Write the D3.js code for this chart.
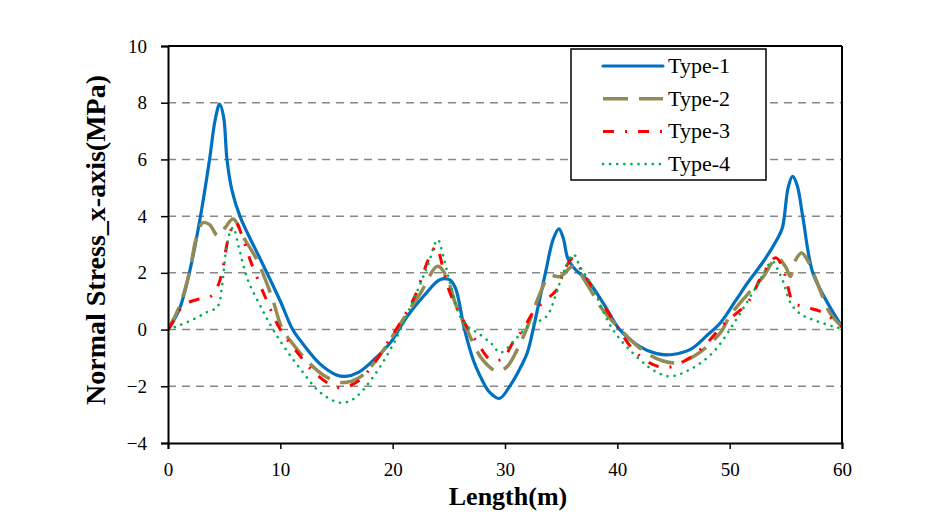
<!DOCTYPE html>
<html><head><meta charset="utf-8">
<script src="https://cdn.jsdelivr.net/npm/d3@7"></script>
<style>body{margin:0;background:#fff}svg{display:block}
svg text{font-family:'Liberation Serif','Times New Roman',serif}
.tick text{font-size:19px}</style>
</head><body>
<svg id="c" width="941" height="530"></svg>
<script>
const seriesNames = ["Type-1","Type-2","Type-3","Type-4"];
const xTicks = [0,10,20,30,40,50,60];
const yTicks = [-4,-2,0,2,4,6,8,10];
const type1 = [[0,0],[1,0.7],[1.9,2],[2.85,3.9],[3.7,6],[4.2,7.4],[4.6,7.95],[4.95,7.5],[5.25,6],[5.7,4.9],[6.4,4.0],[7.2,3.3],[8.2,2.5],[10,1.0],[11.1,0],[12,-0.5],[13.5,-1.2],[15,-1.6],[15.8,-1.65],[17,-1.5],[18.5,-1.0],[19.8,-0.46],[21.3,0.47],[22.8,1.2],[24.2,1.76],[25.1,1.75],[25.6,1.45],[26.4,0],[27.2,-1.1],[27.8,-1.65],[28.6,-2.2],[29.5,-2.43],[30.5,-1.95],[31.3,-1.4],[32,-0.8],[32.5,0],[33.6,2.0],[34.3,3.2],[34.8,3.55],[35.2,3.2],[35.6,2.5],[36.3,2.1],[37.3,1.76],[38.8,0.9],[40.2,0],[42,-0.6],[43.5,-0.85],[44.9,-0.88],[46.5,-0.7],[48,-0.2],[49.2,0.25],[50.5,1.0],[51.6,1.65],[53,2.4],[54.2,3.17],[54.7,3.6],[55.2,5.0],[55.6,5.4],[56,5.1],[56.5,4.0],[57.4,2.0],[58.7,0.95],[60,0.1]];
const type2 = [[0,0],[1,0.8],[1.9,2],[2.5,3.2],[3.1,3.77],[3.7,3.7],[4.45,3.3],[5.1,3.6],[5.8,3.9],[6.8,3.2],[7.9,2.47],[9.2,1.2],[10.2,0],[11.1,-0.5],[12.5,-1.15],[14,-1.65],[15.5,-1.87],[17,-1.7],[18.5,-1.1],[19.8,-0.35],[21,0.4],[22.5,1.3],[24,2.23],[24.8,1.87],[25.6,0.9],[26.6,0],[28,-1.06],[29.3,-1.47],[30.2,-1.3],[31.1,-0.7],[32,0.1],[32.9,1.06],[33.6,1.7],[34,1.9],[34.9,1.87],[36.1,2.23],[37.3,1.6],[38.7,0.7],[40.9,-0.25],[42.5,-0.8],[44,-1.1],[45.3,-1.17],[47,-0.9],[49.2,-0.1],[50,0.47],[51.5,1.2],[53,1.87],[54.2,2.53],[55,2.2],[55.4,1.87],[55.8,2.4],[56.4,2.7],[57,2.4],[57.8,1.65],[58.9,0.6],[60,0.1]];
const type3 = [[0,0],[0.5,0.3],[1.07,0.7],[1.8,0.95],[2.6,1.06],[3.5,1.12],[4.0,1.23],[4.5,1.6],[4.8,2.0],[5.35,3.17],[6,3.8],[6.6,3.3],[7.3,2.47],[8.6,1.2],[10,0],[11.5,-0.8],[13,-1.5],[14.5,-1.95],[15.5,-2.05],[17,-1.8],[18.5,-1.1],[19.8,-0.3],[20.7,0.25],[22,1.2],[23.3,2.58],[23.9,2.93],[24.4,2.3],[25.1,1.3],[26.6,0.1],[27.6,-0.5],[28.7,-1.06],[29.8,-1.03],[30.7,-0.46],[31.6,0],[32.5,0.6],[33.5,1.0],[34.6,1.4],[35.3,2.1],[36,2.5],[36.6,2.2],[37.6,1.6],[39.6,0.35],[41.4,-0.7],[43,-1.2],[44.4,-1.34],[46,-1.1],[47.6,-0.63],[49.5,0.2],[51.6,0.95],[53,2.0],[54.1,2.53],[54.7,2.2],[55.1,1.65],[55.7,0.95],[56.9,0.78],[58.3,0.6],[60,0.1]];
const type4 = [[0,0],[1,0.15],[2.2,0.35],[3.4,0.6],[4.4,0.8],[4.8,1.5],[5.1,2.58],[5.5,3.4],[5.8,3.6],[6.3,2.9],[7.1,1.76],[8.4,0.7],[9.35,0],[10.5,-0.7],[12,-1.5],[13.5,-2.2],[15.3,-2.58],[16.5,-2.45],[18.3,-1.65],[20.4,-0.25],[21.8,1.0],[23.1,2.23],[24,3.17],[24.5,2.6],[25.1,1.65],[26.3,0.25],[27.8,-0.18],[28.8,-0.5],[29.6,-0.81],[30.8,-0.4],[32,0.1],[33.7,0.47],[34.5,1.2],[35.2,2.0],[36.1,2.65],[36.7,2.2],[37.6,1.65],[39.6,0],[42,-1.06],[43.5,-1.5],[44.7,-1.65],[46.5,-1.4],[48.5,-0.81],[50.5,0.3],[52.4,1.53],[53.8,2.4],[54.3,2.1],[54.8,1.65],[55.4,0.95],[56.3,0.55],[57.4,0.35],[59.6,0.07],[60,0.05]];

const seriesData = [type1,type2,type3,type4];
const styles = [
  {color:"#0070C0", width:3.2, dash:null, cap:"round"},
  {color:"#948A54", width:3.5, dash:"25,11", cap:"butt"},
  {color:"#FF0000", width:3, dash:"11,11,2,11", cap:"butt"},
  {color:"#00B050", width:2.6, dash:"0.1,7", cap:"round"}
];

const W=941,H=530, m={l:168,r:99,t:46,b:87};
const svg=d3.select("#c");
const x=d3.scaleLinear().domain([0,60]).range([m.l,W-m.r]);
const y=d3.scaleLinear().domain([-4,10]).range([H-m.b,m.t]);
const font="'Liberation Serif','Times New Roman',serif";

// grid
svg.append("g").selectAll("line").data(yTicks.filter(d=>d>-4&&d<10)).join("line")
  .attr("x1",x(0)).attr("x2",x(60)).attr("y1",d=>y(d)).attr("y2",d=>y(d))
  .attr("stroke","#878787").attr("stroke-width",1.5).attr("stroke-dasharray","8,6");

// lines
const line=d3.line().x(d=>x(d[0])).y(d=>y(d[1])).curve(d3.curveCatmullRom.alpha(0.5));
svg.append("clipPath").attr("id","pc").append("rect").attr("x",m.l).attr("y",m.t).attr("width",W-m.l-m.r).attr("height",H-m.t-m.b);
svg.append("g").attr("clip-path","url(#pc)").selectAll("path").data(seriesData).join("path")
  .attr("d",line).attr("fill","none")
  .attr("stroke",(d,i)=>styles[i].color).attr("stroke-width",(d,i)=>styles[i].width)
  .attr("stroke-dasharray",(d,i)=>styles[i].dash).attr("stroke-linecap",(d,i)=>styles[i].cap)
  .attr("stroke-linejoin","round");

// axes
const xa=svg.append("g").attr("transform",`translate(0,${y(-4)})`)
  .call(d3.axisBottom(x).tickValues(xTicks).tickSize(6).tickPadding(14));
const ya=svg.append("g").attr("transform",`translate(${x(0)},0)`)
  .call(d3.axisLeft(y).tickValues(yTicks).tickSize(7).tickPadding(14));
[xa,ya].forEach(a=>{
  a.attr("font-family",null).attr("font-size",null);
  a.select(".domain").attr("stroke","#000").attr("stroke-width",2);
  a.selectAll(".tick line").attr("stroke","#000").attr("stroke-width",1.5);
  a.selectAll(".tick text").style("font-family",font).style("font-size","19px").attr("fill","#000");
});
// frame top/right
svg.append("line").attr("x1",x(0)).attr("x2",x(60)).attr("y1",y(10)).attr("y2",y(10)).attr("stroke","#000").attr("stroke-width",2);
svg.append("line").attr("x1",x(60)).attr("x2",x(60)).attr("y1",y(10)).attr("y2",y(-4)).attr("stroke","#000").attr("stroke-width",2);

// titles
svg.append("text").attr("x",508).attr("y",505).attr("text-anchor","middle")
  .attr("font-weight","bold").attr("font-size",26).text("Length(m)");
svg.append("text").attr("transform",`translate(105,240) rotate(-90)`).attr("text-anchor","middle")
  .attr("font-weight","bold").attr("font-size",28).text("Normal Stress_x-axis(MPa)");

// legend
const lg=svg.append("g");
lg.append("rect").attr("x",571).attr("y",49).attr("width",195).attr("height",131).attr("fill","#fff").attr("stroke","#000").attr("stroke-width",1.5);
const rows=lg.selectAll("g.r").data(seriesNames).join("g").attr("class","r")
  .attr("transform",(d,i)=>`translate(0,${66+i*32.7})`);
rows.append("line").attr("x1",603).attr("x2",663).attr("y1",0).attr("y2",0)
  .attr("stroke",(d,i)=>styles[i].color).attr("stroke-width",(d,i)=>styles[i].width)
  .attr("stroke-dasharray",(d,i)=>styles[i].dash).attr("stroke-linecap",(d,i)=>styles[i].cap);
rows.append("text").attr("x",668).attr("y",7).attr("font-size",22).text(d=>d);
</script>
</body></html>
